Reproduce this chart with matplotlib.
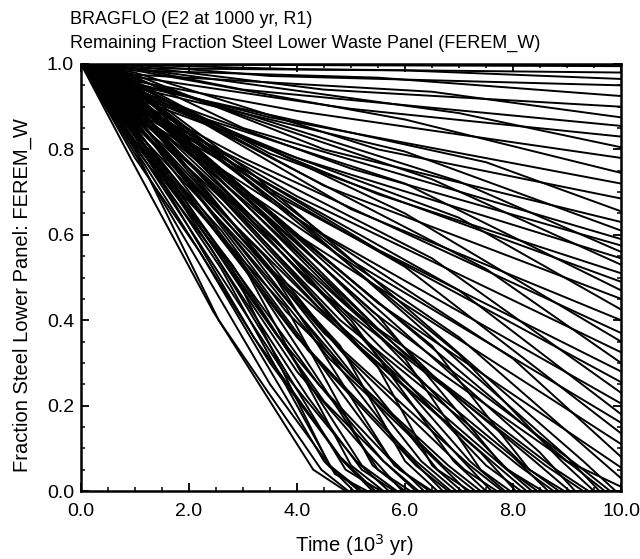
import matplotlib
matplotlib.use("Agg")
import matplotlib.pyplot as plt
from matplotlib.ticker import MultipleLocator

plt.rcParams['font.family'] = ['Liberation Sans', 'DejaVu Sans']

# === Realizations that still hold steel at 10,000 yr ===
# value at 1000 yr, knee (time, value), value at 10,000 yr
surv_frac_1k = [0.999, 0.998, 0.990, 0.998, 0.985, 0.995, 0.975, 0.990, 0.970, 0.990,
                0.960, 0.985, 0.955, 0.980, 0.950, 0.975, 0.945, 0.970, 0.940, 0.965,
                0.935, 0.965, 0.930, 0.960, 0.925, 0.955, 0.920, 0.955, 0.915, 0.950,
                0.910, 0.945, 0.905, 0.945, 0.900, 0.940, 0.895, 0.935, 0.890, 0.930,
                0.885, 0.925, 0.880, 0.920]
surv_knee_t = [5.0, 4.0, 6.0, 3.5, 5.5, 4.5, 6.5, 3.0, 5.0, 7.0,
               4.0, 6.0, 3.5, 5.5, 7.5, 4.5, 6.0, 3.0, 5.0, 7.0,
               4.0, 6.5, 5.5, 3.5, 6.0, 4.5, 7.0, 5.0, 3.0, 6.0,
               4.0, 7.5, 5.5, 3.5, 6.5, 4.5, 7.0, 5.0, 6.0, 4.0,
               8.0, 5.5, 7.0, 9.0]
surv_knee_v = [0.997, 0.988, 0.985, 0.972, 0.968, 0.940, 0.935, 0.940, 0.895, 0.885,
               0.890, 0.870, 0.875, 0.800, 0.770, 0.800, 0.795, 0.850, 0.755, 0.725,
               0.780, 0.730, 0.695, 0.790, 0.720, 0.715, 0.640, 0.660, 0.780, 0.650,
               0.690, 0.520, 0.565, 0.700, 0.545, 0.600, 0.470, 0.540, 0.525, 0.600,
               0.310, 0.440, 0.360, 0.070]
surv_frac_10k = [0.995, 0.980, 0.965, 0.950, 0.925, 0.900, 0.875, 0.855, 0.830, 0.805,
                 0.780, 0.745, 0.720, 0.685, 0.655, 0.630, 0.610, 0.590, 0.575, 0.560,
                 0.545, 0.530, 0.510, 0.490, 0.470, 0.450, 0.425, 0.400, 0.370, 0.350,
                 0.325, 0.300, 0.280, 0.255, 0.230, 0.205, 0.180, 0.160, 0.135, 0.110,
                 0.080, 0.055, 0.030, 0.010]

# === Realizations where the steel is used up before 10,000 yr ===
# value at 1000 yr, mid knee, tail knee (flattening near zero), time it hits zero
depl_frac_1k = [0.760, 0.800, 0.780, 0.815, 0.790, 0.820, 0.800, 0.830, 0.805, 0.835,
                0.810, 0.840, 0.820, 0.845, 0.815, 0.850, 0.830, 0.855, 0.835, 0.860,
                0.840, 0.865, 0.845, 0.870, 0.850, 0.875, 0.855, 0.880, 0.860, 0.885,
                0.865, 0.890, 0.870, 0.895, 0.875, 0.900, 0.880, 0.905, 0.885, 0.910,
                0.890, 0.915, 0.895, 0.920, 0.900, 0.925, 0.905, 0.930, 0.910, 0.935,
                0.915, 0.940, 0.920, 0.945, 0.925, 0.950]
depl_mid_t = [2.45, 2.55, 2.2, 2.8, 3.5, 2.6, 3.5, 3.2, 2.4, 3.0,
              3.8, 4.2, 2.8, 4.0, 3.8, 3.0, 4.5, 3.6, 2.6, 3.5,
              4.4, 4.8, 3.2, 4.2, 4.0, 2.8, 5.5, 4.6, 3.4, 3.8,
              5.0, 5.0, 3.0, 4.8, 4.5, 3.6, 6.0, 5.2, 2.8, 3.5,
              4.4, 5.5, 3.4, 5.6, 4.8, 3.0, 6.5, 4.8, 2.6, 4.2,
              6.0, 7.0, 3.8, 5.5, 5.4, 3.2]
depl_mid_v = [0.42, 0.40, 0.56, 0.52, 0.25, 0.52, 0.30, 0.36, 0.57, 0.53,
              0.27, 0.22, 0.53, 0.28, 0.43, 0.53, 0.21, 0.37, 0.61, 0.52,
              0.25, 0.34, 0.55, 0.33, 0.36, 0.63, 0.29, 0.31, 0.55, 0.42,
              0.27, 0.40, 0.64, 0.33, 0.37, 0.59, 0.31, 0.33, 0.68, 0.52,
              0.43, 0.41, 0.64, 0.33, 0.40, 0.71, 0.34, 0.45, 0.75, 0.49,
              0.32, 0.32, 0.66, 0.38, 0.42, 0.74]
depl_tail_t = [4.3, 4.45, 4.5, 4.6, 4.6, 4.7, 4.85, 4.8, 4.9, 5.0,
               5.1, 5.2, 5.2, 5.3, 5.4, 5.5, 5.6, 5.6, 5.7, 5.8,
               5.9, 6.0, 6.0, 6.2, 6.2, 6.3, 6.5, 6.5, 6.6, 6.7,
               6.8, 6.9, 7.0, 7.1, 7.2, 7.2, 7.4, 7.4, 7.5, 7.6,
               7.7, 7.8, 7.9, 8.0, 8.1, 8.2, 8.3, 8.4, 8.5, 8.6,
               8.8, 8.9, 9.0, 9.1, 9.2, 9.3]
depl_tail_v = [0.05, 0.05, 0.07, 0.06, 0.06, 0.04, 0.07, 0.08, 0.05, 0.06,
               0.07, 0.05, 0.06, 0.09, 0.06, 0.05, 0.07, 0.07, 0.08, 0.06,
               0.05, 0.07, 0.09, 0.06, 0.07, 0.07, 0.06, 0.08, 0.05, 0.06,
               0.06, 0.07, 0.08, 0.05, 0.06, 0.07, 0.05, 0.09, 0.06, 0.07,
               0.07, 0.06, 0.05, 0.08, 0.06, 0.06, 0.05, 0.07, 0.09, 0.06,
               0.05, 0.07, 0.08, 0.06, 0.06, 0.07]
depl_end_t = [4.9, 4.95, 5.05, 5.15, 5.2, 5.3, 5.4, 5.45, 5.55, 5.6,
              5.7, 5.8, 5.85, 5.95, 6.0, 6.1, 6.2, 6.25, 6.35, 6.45,
              6.5, 6.6, 6.7, 6.8, 6.85, 6.95, 7.05, 7.15, 7.2, 7.3,
              7.4, 7.5, 7.6, 7.7, 7.8, 7.85, 7.95, 8.05, 8.15, 8.25,
              8.35, 8.45, 8.55, 8.65, 8.75, 8.85, 8.95, 9.05, 9.15, 9.3,
              9.4, 9.5, 9.6, 9.7, 9.8, 9.9]

T_INTRUSION = 1.0   # 10^3 yr
T_FINAL = 10.0

fig = plt.figure(figsize=(6.4, 5.59), dpi=100)
ax = fig.add_axes([81 / 640, 68 / 559, 540 / 640, 427 / 559])

line_kw = dict(color="black", lw=1.4, solid_joinstyle="round")

for v1, tk, vk, v10 in zip(surv_frac_1k, surv_knee_t, surv_knee_v, surv_frac_10k):
    ax.plot([0.0, T_INTRUSION, tk, T_FINAL], [1.0, v1, vk, v10], **line_kw)

for v1, tm, vm, tt, vt, te in zip(depl_frac_1k, depl_mid_t, depl_mid_v,
                                  depl_tail_t, depl_tail_v, depl_end_t):
    ax.plot([0.0, T_INTRUSION, tm, tt, te, T_FINAL],
            [1.0, v1, vm, vt, 0.0, 0.0], **line_kw)

ax.set_xlim(0, 10)
ax.set_ylim(0, 1)
ax.xaxis.set_major_locator(MultipleLocator(2))
ax.xaxis.set_minor_locator(MultipleLocator(0.5))
ax.yaxis.set_major_locator(MultipleLocator(0.2))
ax.yaxis.set_minor_locator(MultipleLocator(0.05))
ax.xaxis.set_major_formatter(lambda v, p: f"{v:.1f}")
ax.yaxis.set_major_formatter(lambda v, p: f"{v:.1f}")
ax.tick_params(which="both", direction="in", top=True, right=True, labelsize=14)
ax.tick_params(axis="x", which="major", pad=9)
ax.tick_params(axis="y", which="major", pad=5)
ax.tick_params(which="major", length=6, width=1.3)
ax.tick_params(which="minor", length=3, width=1.1)
for s in ax.spines.values():
    s.set_linewidth(1.8)

fig.text(354 / 640, 1 - 545 / 559, "Time (10$^3$ yr)", fontsize=14.5,
         ha="center", va="center")
fig.text(22 / 640, 1 - 295 / 559, "Fraction Steel Lower Panel: FEREM_W", fontsize=14.5,
         rotation=90, ha="center", va="center")

fig.text(70 / 640, 1 - 20 / 559, "BRAGFLO (E2 at 1000 yr, R1)", fontsize=13, va="center")
fig.text(70 / 640, 1 - 43 / 559, "Remaining Fraction Steel Lower Waste Panel (FEREM_W)",
         fontsize=13, va="center")

fig.savefig("out.png", dpi=100)
plt.close(fig)
